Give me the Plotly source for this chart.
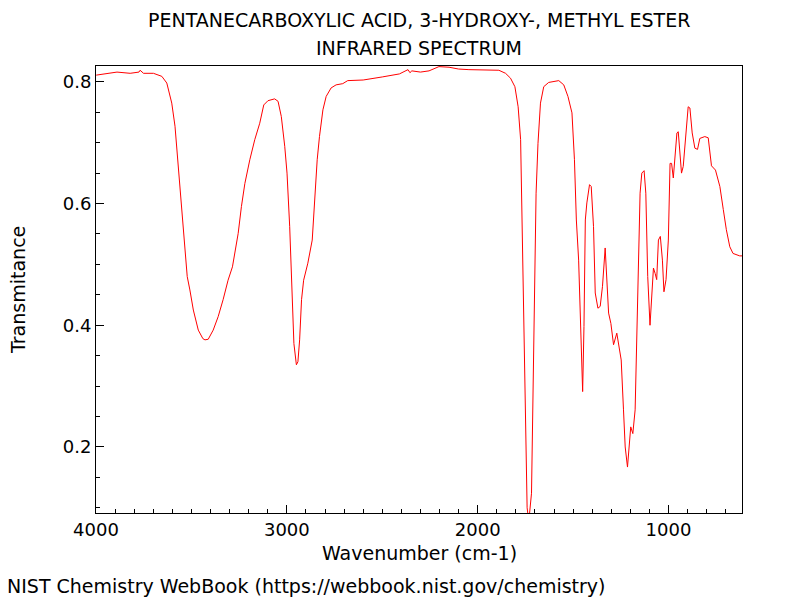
import plotly.graph_objects as go

# IR spectrum
wavenumber = [
    3999, 3890, 3821, 3775, 3769, 3760, 3751, 3699, 3655, 3629, 3603, 3586, 3569, 3551, 3537,
    3522, 3508, 3490, 3464, 3440, 3429, 3412, 3386, 3360, 3334, 3308, 3285, 3273, 3255, 3238,
    3220, 3194, 3168, 3142, 3121, 3099, 3064, 3046, 3029, 3011, 2999, 2985, 2973, 2963, 2950,
    2942, 2933, 2923, 2912, 2890, 2867, 2855, 2841, 2829, 2811, 2794, 2768, 2742, 2707, 2681,
    2600, 2500, 2410, 2365, 2355, 2345, 2300, 2255, 2203, 2150, 2100, 2046, 1993, 1889, 1854,
    1828, 1805, 1788, 1775, 1767, 1758, 1749, 1741, 1735, 1729, 1718, 1710, 1701, 1694, 1684,
    1671, 1654, 1628, 1575, 1549, 1527, 1506, 1493, 1483, 1471, 1460, 1450, 1443, 1436, 1428,
    1414, 1405, 1393, 1384, 1370, 1358, 1346, 1332, 1323, 1314, 1302, 1288, 1271, 1258, 1248,
    1236, 1227, 1215, 1206, 1198, 1187, 1175, 1161, 1149, 1140, 1128, 1119, 1109, 1097, 1088,
    1079, 1070, 1062, 1053, 1043, 1032, 1024, 1013, 1001, 992, 984, 975, 966, 956, 949,
    940, 932, 923, 911, 897, 888, 876, 862, 848, 836, 810, 792, 783, 775, 754,
    731, 713, 697, 679, 662, 627, 615,
]
transmittance = [
    0.811, 0.816, 0.814, 0.816, 0.819, 0.816, 0.814, 0.814, 0.809, 0.798, 0.765, 0.727, 0.661, 0.590, 0.529,
    0.480, 0.458, 0.425, 0.392, 0.378, 0.376, 0.377, 0.392, 0.414, 0.442, 0.474, 0.496, 0.518, 0.551, 0.595,
    0.633, 0.672, 0.705, 0.732, 0.762, 0.769, 0.772, 0.768, 0.743, 0.694, 0.650, 0.562, 0.453, 0.370, 0.335,
    0.340, 0.376, 0.442, 0.474, 0.502, 0.540, 0.606, 0.672, 0.710, 0.754, 0.776, 0.790, 0.795, 0.797, 0.802,
    0.803, 0.808, 0.813, 0.820, 0.815, 0.818, 0.816, 0.818, 0.825, 0.824, 0.821, 0.820, 0.820, 0.819, 0.814,
    0.806, 0.792, 0.759, 0.705, 0.562, 0.343, 0.179, 0.100, 0.085, 0.088, 0.124, 0.288, 0.453, 0.617, 0.699,
    0.765, 0.792, 0.799, 0.802, 0.795, 0.776, 0.749, 0.672, 0.573, 0.507, 0.398, 0.291, 0.398, 0.573, 0.601,
    0.631, 0.628, 0.562, 0.453, 0.428, 0.431, 0.464, 0.527, 0.480, 0.420, 0.403, 0.368, 0.387, 0.365, 0.343,
    0.261, 0.200, 0.167, 0.206, 0.233, 0.222, 0.261, 0.453, 0.617, 0.650, 0.654, 0.617, 0.480, 0.400, 0.442,
    0.494, 0.485, 0.475, 0.540, 0.546, 0.507, 0.455, 0.475, 0.540, 0.666, 0.666, 0.642, 0.672, 0.716, 0.718,
    0.683, 0.650, 0.661, 0.710, 0.759, 0.757, 0.716, 0.691, 0.689, 0.707, 0.710, 0.708, 0.683, 0.662, 0.655,
    0.628, 0.590, 0.557, 0.529, 0.518, 0.514, 0.514,
]

font = "DejaVu Sans, Arial, sans-serif"
text_font = dict(family=font, size=19, color="black")

fig = go.Figure()
fig.add_trace(go.Scatter(x=wavenumber, y=transmittance, mode="lines",
                         line=dict(color="#ff0000", width=1), showlegend=False))

axis_common = dict(showline=True, linecolor="black", linewidth=1, mirror=True,
                   ticks="inside", tickcolor="black", ticklen=8, showgrid=False, zeroline=False,
                   tickfont=dict(family=font, size=18, color="black"))
fig.update_xaxes(range=[4000, 615], dtick=1000, tick0=0,
                 minor=dict(dtick=100, ticks="inside", ticklen=4, tickcolor="black"),
                 **axis_common)
fig.update_yaxes(range=[0.0915, 0.826], dtick=0.2, tick0=0,
                 minor=dict(dtick=0.05, ticks="inside", ticklen=4, tickcolor="black"),
                 **axis_common)

# plot area is 646 x 447 px; texts placed relative to it
plot_w, plot_h = 646, 447
texts = [
    ("PENTANECARBOXYLIC ACID, 3-HYDROXY-, METHYL ESTER", 0.5, 1 + 46 / plot_h, "center", 0),
    ("INFRARED SPECTRUM", 0.5, 1 + 18 / plot_h, "center", 0),
    ("Wavenumber (cm-1)", 0.5, -40 / plot_h, "center", 0),
    ("Transmitance", -78 / plot_w, 0.5 - (290 - 289.5) / plot_h, "center", -90),
    ("NIST Chemistry WebBook (https://webbook.nist.gov/chemistry)", -91 / plot_w, -73 / plot_h, "left", 0),
]
for text, x, y, anchor, angle in texts:
    fig.add_annotation(text=text, x=x, y=y, xref="paper", yref="paper", xanchor=anchor,
                       yanchor="middle", textangle=angle, showarrow=False, font=text_font)

# page body has an 8px margin, so the figure is shrunk to fit the 800x600 window
fig.update_layout(width=792, height=592, margin=dict(l=88, r=58, t=58, b=87),
                  plot_bgcolor="white", paper_bgcolor="white", font=dict(family=font, size=18))
fig.write_html("out.html")
